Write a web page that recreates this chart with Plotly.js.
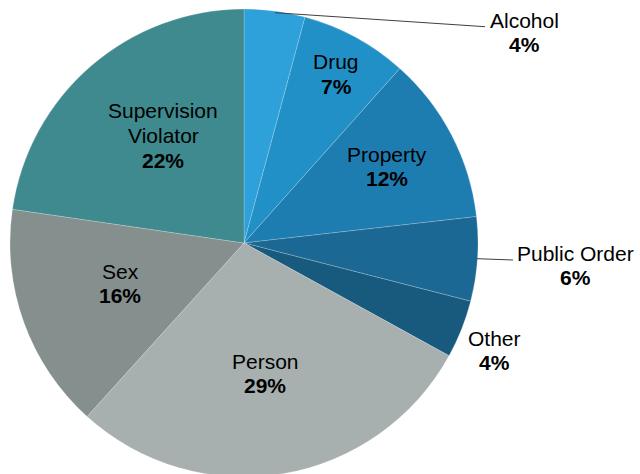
<!DOCTYPE html>
<html>
<head>
<meta charset="utf-8">
<script src="https://cdn.plot.ly/plotly-3.0.1.min.js"></script>
<style>html,body{margin:0;padding:0;overflow:hidden;background:#fff;}#chart{width:640px;height:478px;}</style>
</head>
<body>
<div id="chart"></div>
<script>
// Data
var categories = ["Alcohol", "Drug", "Property", "Public Order", "Other", "Person", "Sex", "Supervision Violator"];
var labelLines = [["Alcohol"], ["Drug"], ["Property"], ["Public Order"], ["Other"], ["Person"], ["Sex"], ["Supervision", "Violator"]];
var values = [4.2, 7.4, 11.6, 5.8, 4.0, 28.7, 15.6, 22.7];
var percentLabels = ["4%", "7%", "12%", "6%", "4%", "29%", "16%", "22%"];
var colors = ["#2ea0da", "#2190c6", "#1e7db0", "#1a6893", "#185a7e", "#a8b0af", "#848f8e", "#3e8a8e"];

// Layout helpers (pixel positions of label blocks)
var W = 640, H = 478;
var labelPos = [[524, 20], [336, 62], [387, 154], [575, 253], [494, 338], [265, 361], [120, 271], [163, 111]];
var lineGap = 24.5;
function px(x) { return x / W; }
function py(y) { return 1 - y / H; }

var annotations = [];
categories.forEach(function (c, i) {
  var lines = labelLines[i].concat(["<b>" + percentLabels[i] + "</b>"]);
  lines.forEach(function (t, j) {
    annotations.push({
      text: t, xref: "paper", yref: "paper",
      x: px(labelPos[i][0]), y: py(labelPos[i][1] + j * lineGap),
      xanchor: "center", yanchor: "middle", showarrow: false,
      font: {family: "Liberation Sans, Arial, sans-serif", size: 21, color: "#000"}
    });
  });
});

var leaders = [[275, 12.7, 485, 26.7], [477, 258.7, 513, 260]];
var shapes = leaders.map(function (l) {
  return {type: "line", xref: "paper", yref: "paper", x0: px(l[0]), y0: py(l[1]), x1: px(l[2]), y1: py(l[3]),
    line: {color: "#404040", width: 1}};
});

var trace = {
  type: "pie",
  labels: categories,
  values: values,
  sort: false,
  direction: "clockwise",
  rotation: 0,
  marker: {colors: colors, line: {color: "rgba(255,255,255,0.35)", width: 0.6}},
  textinfo: "none",
  textposition: "none",
  hoverinfo: "skip",
  domain: {x: [10 / W, 478 / W], y: [1 - 477 / H, 1 - 9 / H]}
};

Plotly.newPlot("chart", [trace], {
  width: W, height: H,
  margin: {l: 0, r: 0, t: 0, b: 0},
  showlegend: false,
  paper_bgcolor: "#fff",
  annotations: annotations,
  shapes: shapes
}, {staticPlot: true});
</script>
</body>
</html>
